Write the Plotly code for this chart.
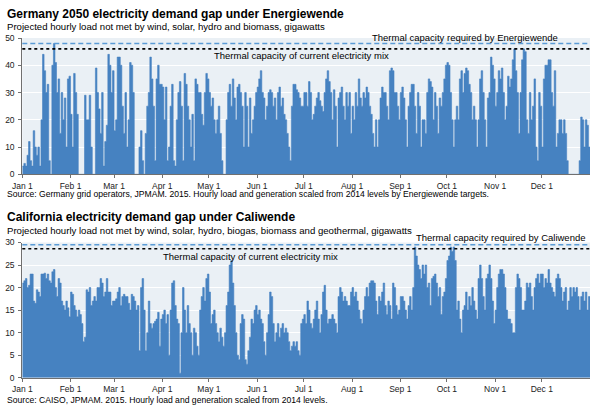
import pandas as pd
import plotly.graph_objects as go

# ---------------- data (daily estimates) ----------------
de_jan = [3,4,3,7,12,5,3,16,10,7,10,3,20,44,38,30,33,5,0,40,48,41,30,35,15,30,20,28,10,35,36]
de_feb = [22,10,37,30,22,0,0,0,0,29,20,20,29,10,0,0,39,30,24,15,30,3,12,18,44,40,30,38]
de_mar = [16,20,43,43,40,25,15,30,10,20,41,40,30,0,0,0,10,16,5,0,15,25,30,43,35,25,5,35,40,33,33]
de_apr = [32,20,32,5,10,25,33,5,3,20,30,34,25,5,37,33,25,20,10,22,5,35,33,30,30,22,18,30,37,35]
de_may = [30,25,28,20,15,20,25,15,5,0,0,20,30,33,25,35,28,20,32,33,30,25,10,30,25,10,28,15,20,25,30]
de_jun = [32,35,38,30,28,20,25,30,31,30,25,28,20,30,32,25,28,22,20,15,10,5,25,33,33,31,30,28,25,25]
de_jul = [30,30,25,34,30,20,22,25,28,30,27,25,23,30,35,38,34,30,20,31,25,10,28,30,32,25,20,30,25,30,15]
de_aug = [25,20,30,25,35,28,25,30,28,32,30,25,22,15,10,20,10,20,28,32,30,30,25,20,38,39,38,30,30,25,20]
de_sep = [30,32,28,20,10,25,30,33,33,25,15,30,25,10,20,20,15,30,35,34,32,20,30,25,15,28,25,30,35,40]
de_oct = [41,40,30,20,10,20,25,20,35,38,30,37,39,38,33,30,20,25,20,10,20,35,38,30,20,10,28,30,43,40,35]
de_nov = [25,30,38,35,39,30,20,25,36,32,35,42,46,38,30,15,30,42,46,45,20,15,30,20,25,35,10,5,30,25]
de_dec = [10,35,40,40,42,42,30,25,38,10,15,20,20,15,20,15,5,0,0,0,0,0,0,0,5,21,20,10,20,18,10]

ca_jan = [21,21.5,22,20,20.5,23,23,17,16.5,19.5,19,18,23,23,23.2,22,23,21.5,21,23.5,24,20,18,22,21,17,16,15,17,15.5,13.5]
ca_feb = [19,18.5,16,15,13.5,15,14,12,8,9,19.5,19,20,16,17,18,17,20,20,22,21,18,19,22,19,19,16,17]
ca_mar = [17,17.5,19,20,16,18,18.5,18,18,16.5,15,18.5,18,17,15,16,6,20,22,15,6,10,17,12,11,12,12.5,13,14.5,7,13]
ca_apr = [14,15,12,14,5,15,21,21.5,16,13,12,1,10,20,15,10,16,12,10,5,11,10,7,5,15,18,20,17,22,23]
ca_may = [19,12,14,15,12,10,8,11,9,7,10,16,19,25,26,21,16,10,5,4,12,14,13,4,3,6,9,13,12,15,16]
ca_jun = [14,15,13,12,8,5,10,14,19,18,12,8,10,12,9,11,12,10,11,10,8,6,7,8,7,8,6,5,12,13]
ca_jul = [14,12,17,15,12,11,13,15,17,13,10,14,19,20.5,15,12,13,13,14,13,12,10,18,20,19,17,18,17,16,16,19]
ca_aug = [20,18,19,17,15,13,12,15,18,20,18,21,21.5,21.5,21,17,14,18,17,19,21,16,14,17,16,13,21,20,16,14,15]
ca_sep = [18,18,17,15,13,16,18,15,20,29,27,25,24,22,25,23,25,20,21,16,22,22.5,23,21,18,20,14,18,19,22]
ca_oct = [26,27,29,28,29,26,15,17,13,10,15,16,19,15,18,16,20,17,15,13,22,25,22,18,15,22,23,25,22,17,12]
ca_nov = [15,20,23,24,24,23,20,15,13,13,12,10,10,20,23,22,20,15,15,17,21,20,21,18,15,20,22,23,21,23]
ca_dec = [23,20,22,21,24,21,20,19,18,22,23,22,20,17,19,20,15,17,20,18,20,19,20,18,15,18,19,17,19,15,18]

germany = de_jan + de_feb + de_mar + de_apr + de_may + de_jun + de_jul + de_aug + de_sep + de_oct + de_nov + de_dec
california = ca_jan + ca_feb + ca_mar + ca_apr + ca_may + ca_jun + ca_jul + ca_aug + ca_sep + ca_oct + ca_nov + ca_dec

month_labels = ["Jan 1", "Feb 1", "Mar 1", "Apr 1", "May 1", "Jun 1",
                "Jul 1", "Aug 1", "Sep 1", "Oct 1", "Nov 1", "Dec 1"]

de_required, de_current = 48, 46
ca_required, ca_current = 29.5, 28.6

# ---------------- figure ----------------
days = pd.date_range("2014-01-01", periods=365, freq="D")
x_end = days[-1] + pd.Timedelta(days=1)
xs = list(days) + [x_end]
month_ticks = pd.date_range("2014-01-01", periods=12, freq="MS")

FILL = "#4682C1"
BG = "#EAF0F5"
FONT = "Liberation Sans, Arial, Helvetica, sans-serif"

fig = go.Figure()
fig.add_trace(go.Scatter(x=xs, y=germany + [germany[-1]], mode="lines", line_shape="hv",
                         line=dict(color=FILL, width=0.6), fill="tozeroy", fillcolor=FILL,
                         xaxis="x", yaxis="y", hoverinfo="skip"))
fig.add_trace(go.Scatter(x=xs, y=california + [california[-1]], mode="lines", line_shape="hv",
                         line=dict(color=FILL, width=0.6), fill="tozeroy", fillcolor=FILL,
                         xaxis="x2", yaxis="y2", hoverinfo="skip"))

xdom = [22.3 / 600, 590 / 600]
common_x = dict(domain=xdom, range=[days[0], x_end], tickvals=list(month_ticks), ticktext=month_labels,
                showgrid=False, showline=True, linecolor="#707070", linewidth=1,
                ticks="outside", ticklen=3, tickcolor="#707070", automargin=False,
                tickfont=dict(family=FONT, size=8.5, color="#222"), zeroline=False, fixedrange=True)
common_y = dict(showgrid=True, gridcolor="white", gridwidth=1, showline=True, linecolor="#707070",
                linewidth=1, ticks="outside", ticklen=3, tickcolor="#707070", zeroline=False,
                automargin=False, ticklabelstandoff=2,
                tickfont=dict(family=FONT, size=8.5, color="#222"), fixedrange=True)

fig.update_layout(
    width=600, height=411, margin=dict(l=0, r=0, t=0, b=0, autoexpand=False),
    paper_bgcolor="white", plot_bgcolor=BG, showlegend=False,
    xaxis=dict(anchor="y", **common_x),
    yaxis=dict(domain=[1 - 174.3 / 411, 1 - 38 / 411], range=[0, 50], tickvals=[0, 10, 20, 30, 40, 50],
               anchor="x", **common_y),
    xaxis2=dict(anchor="y2", **common_x),
    yaxis2=dict(domain=[1 - 377.7 / 411, 1 - 242.5 / 411], range=[0, 30],
                tickvals=[0, 5, 10, 15, 20, 25, 30], anchor="x2", **common_y),
)

# reference lines
for yref, xref, req, cur in [("y", "x", de_required, de_current), ("y2", "x2", ca_required, ca_current)]:
    fig.add_shape(type="line", xref=xref + " domain", yref=yref, x0=0, x1=1, y0=req, y1=req,
                  line=dict(color="#5B9BD5", width=1.5, dash="5px,3px"))
    fig.add_shape(type="line", xref=xref + " domain", yref=yref, x0=0, x1=1, y0=cur, y1=cur,
                  line=dict(color="black", width=1.6, dash="dot"))

def txt(text, x, y, size, bold=False, xanchor="left"):
    fig.add_annotation(text=f"<b>{text}</b>" if bold else text, xref="paper", yref="paper",
                       x=x, y=y, xanchor=xanchor, yanchor="middle", showarrow=False, borderpad=0,
                       font=dict(family=FONT, size=size, color="black"))

def py(p):
    return 1 - p / 411

txt("Germany 2050 electricity demand gap under Energiewende", 6 / 600, py(14), 12, bold=True)
txt("Projected hourly load not met by wind, solar, hydro and biomass, gigawatts", 6 / 600, py(26.5), 9.6)
txt("Thermal capacity required by Energiewende", 559 / 600, py(37.5), 9.5, xanchor="right")
txt("Thermal capacity of current electricity mix", 213 / 600, py(55.5), 9.5, xanchor="left")
txt("Source: Germany grid operators, JPMAM. 2015. Hourly load and generation scaled from 2014 levels by Energiewende targets.",
    6 / 600, py(194.5), 8.6)

txt("California electricity demand gap under Caliwende", 6 / 600, py(217.5), 12, bold=True)
txt("Projected hourly load not met by wind, solar, hydro, biogas, biomass and geothermal, gigawatts", 6 / 600, py(230), 9.6)
txt("Thermal capacity required by Caliwende", 587 / 600, py(238), 9.5, xanchor="right")
txt("Thermal capacity of current electricity mix", 162 / 600, py(256), 9.5, xanchor="left")
txt("Source: CAISO, JPMAM. 2015. Hourly load and generation scaled from 2014 levels.", 6 / 600, py(399.5), 8.6)

fig.write_html("out.html", config={"displayModeBar": False},
               post_script="document.body.style.margin='0';document.body.style.overflow='hidden';")
